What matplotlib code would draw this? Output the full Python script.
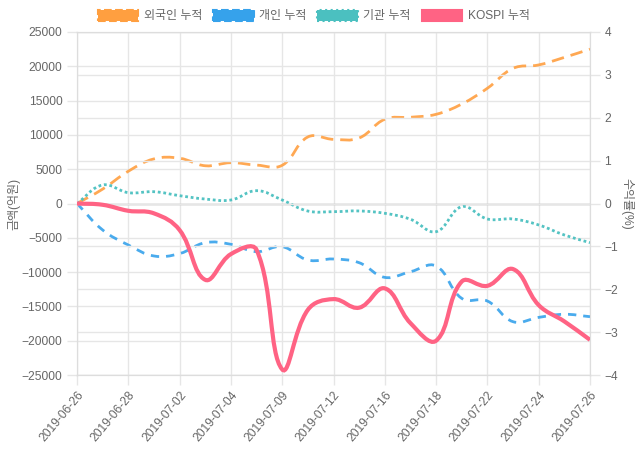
import numpy as np
import matplotlib
matplotlib.use("Agg")
import matplotlib.pyplot as plt
from matplotlib.path import Path
from matplotlib.patches import PathPatch, Patch

plt.rcParams['font.family'] = ['Liberation Sans', 'Noto Sans CJK KR', 'DejaVu Sans']

dates = ['2019-06-26', '2019-06-27', '2019-06-28', '2019-07-01', '2019-07-02',
         '2019-07-03', '2019-07-04', '2019-07-05', '2019-07-09', '2019-07-10',
         '2019-07-12', '2019-07-15', '2019-07-16', '2019-07-17', '2019-07-18',
         '2019-07-19', '2019-07-22', '2019-07-23', '2019-07-24', '2019-07-25',
         '2019-07-26']

foreign = [0, 2100, 4700, 6500, 6600, 5500, 5950, 5600, 5570, 9700, 9350,
           9550, 12280, 12570, 13000, 14500, 16800, 19700, 20200, 21300, 22500]
personal = [0, -3860, -6050, -7650, -7300, -5710, -5950, -7020, -6300, -8240,
            -8090, -8630, -10770, -9940, -9110, -13830, -14220, -17230, -16600,
            -16150, -16500]
institution = [0, 2700, 1580, 1720, 1140, 650, 510, 1870, 510, -1100, -1190,
               -1090, -1430, -2300, -4110, -460, -2260, -2260, -3130, -4590, -5710]
kospi = [0, -0.03, -0.17, -0.23, -0.62, -1.78, -1.18, -1.08, -3.87, -2.48,
         -2.23, -2.43, -1.98, -2.79, -3.2, -1.82, -1.92, -1.53, -2.37, -2.75, -3.18]

C_OR = '#FF9F40'
C_BL = '#36A2EB'
C_TE = '#4BC0C0'
C_RD = '#FF6384'
TXT = '#666666'
GRID = '#e6e6e6'
FS = 8.64  # 12px


def spline_path(ys, sx, sy, tension=0.4):
    # chart.js style bezier through the points, computed in pixel space
    n = len(ys)
    px = np.arange(n) * sx
    py = np.asarray(ys, float) * sy
    cp_prev = np.zeros((n, 2))
    cp_next = np.zeros((n, 2))
    for i in range(n):
        p0 = (px[max(i - 1, 0)], py[max(i - 1, 0)])
        p1 = (px[i], py[i])
        p2 = (px[min(i + 1, n - 1)], py[min(i + 1, n - 1)])
        d01 = np.hypot(p1[0] - p0[0], p1[1] - p0[1])
        d12 = np.hypot(p2[0] - p1[0], p2[1] - p1[1])
        tot = d01 + d12
        s01 = d01 / tot if tot else 0
        s12 = d12 / tot if tot else 0
        fa, fb = tension * s01, tension * s12
        cp_prev[i] = (p1[0] - fa * (p2[0] - p0[0]), p1[1] - fa * (p2[1] - p0[1]))
        cp_next[i] = (p1[0] + fb * (p2[0] - p0[0]), p1[1] + fb * (p2[1] - p0[1]))
    verts = [(px[0], py[0])]
    codes = [Path.MOVETO]
    for i in range(n - 1):
        verts += [tuple(cp_next[i]), tuple(cp_prev[i + 1]), (px[i + 1], py[i + 1])]
        codes += [Path.CURVE4] * 3
    verts = np.array(verts)
    verts[:, 0] /= sx
    verts[:, 1] /= sy
    return Path(verts, codes)


fig = plt.figure(figsize=(6.4, 4.5), dpi=100)
ax = fig.add_axes([77 / 640, 1 - 375 / 450, 513 / 640, 343 / 450])
ax2 = ax.twinx()

x = np.arange(len(dates))
ax.set_xlim(0, len(dates) - 1)
ax.set_ylim(-25000, 25000)
ax2.set_ylim(-4, 4)

sx = 513 / (len(dates) - 1)
sy1 = 343 / 50000
sy2 = 343 / 8

ax.add_patch(PathPatch(spline_path(foreign, sx, sy1), fill=False, edgecolor=C_OR,
                       lw=2, linestyle=(0, (4.5, 2.5)), alpha=0.9, zorder=3))
ax.add_patch(PathPatch(spline_path(personal, sx, sy1), fill=False, edgecolor=C_BL,
                       lw=2, linestyle=(0, (3, 2.5)), alpha=0.9, zorder=3))
ax.add_patch(PathPatch(spline_path(institution, sx, sy1), fill=False, edgecolor=C_TE,
                       lw=2, linestyle=(0, (1, 1)), alpha=0.95, zorder=3))
ax2.add_patch(PathPatch(spline_path(kospi, sx, sy2), fill=False, edgecolor=C_RD,
                        lw=3, zorder=3))

# grid / ticks
ax.set_yticks(np.arange(-25000, 25001, 5000))
ax2.set_yticks(np.arange(-4, 5, 1))
ax.set_xticks(x[::2])
ax.set_xticklabels(dates[::2], rotation=50, ha='right', rotation_mode='anchor')
for a in (ax, ax2):
    a.tick_params(color=GRID, labelcolor=TXT, labelsize=FS, length=7, width=1,
                  grid_color=GRID, grid_linewidth=1)
    for s in a.spines.values():
        s.set_color('#dddddd')
ax.grid(True)
ax2.grid(True, axis='y')
ax.set_axisbelow(True)
ax.axhline(0, color='#b3b3b3', lw=1, zorder=2)
ax.tick_params(axis='x', pad=3)

ax.set_ylabel('금액(억원)', color=TXT, fontsize=FS, labelpad=1)
ax2.set_ylabel('수익률(%)', color=TXT, fontsize=FS, rotation=-90, labelpad=11)

handles = [
    Patch(facecolor=C_OR, edgecolor=C_OR, linestyle='--', lw=1.5, label='외국인 누적'),
    Patch(facecolor=C_BL, edgecolor=C_BL, linestyle='--', lw=1.5, label='개인 누적'),
    Patch(facecolor=C_TE, edgecolor=C_TE, linestyle=':', lw=1.5, label='기관 누적'),
    Patch(facecolor=C_RD, edgecolor=C_RD, lw=1.5, label='KOSPI 누적'),
]
leg = fig.legend(handles=handles, loc='center', bbox_to_anchor=(0.49, 1 - 16 / 450),
                 ncol=4, frameon=False, fontsize=FS, handlelength=3.4,
                 handleheight=1.0, handletextpad=0.45, columnspacing=0.9)
for t in leg.get_texts():
    t.set_color(TXT)

fig.savefig('out.png', dpi=100)
